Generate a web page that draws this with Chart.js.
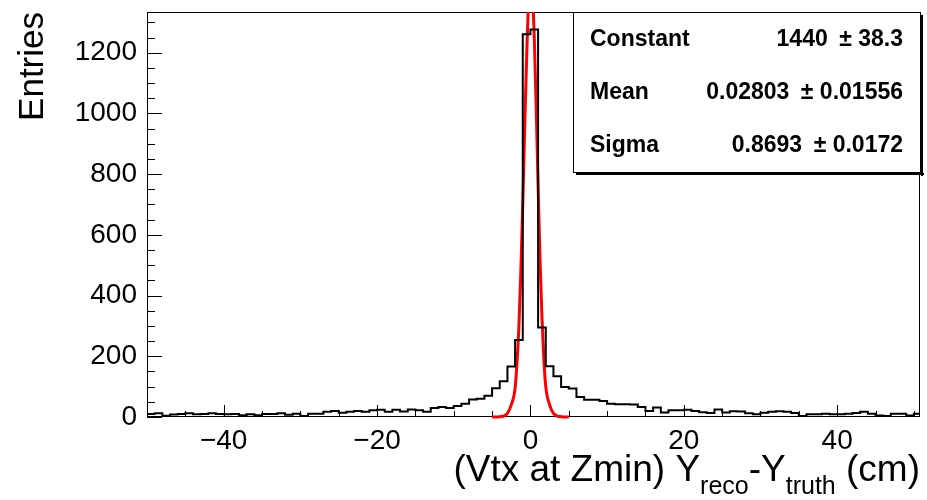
<!DOCTYPE html>
<html>
<head>
<meta charset="utf-8">
<title>Vtx at Zmin Y residual</title>
<script src="https://cdn.jsdelivr.net/npm/chart.js@4.4.1/dist/chart.umd.min.js"></script>
<style>
  html, body { margin: 0; padding: 0; background: #fff; }
  #wrap { width: 927px; height: 500px; }
</style>
</head>
<body>
<div id="wrap"><canvas id="residual_chart" width="927" height="500"></canvas></div>
<script>
// HISTOGRAM DATA (bins of 1 cm starting at -50)
const bin_start = -50;
const bin_width = 1;
const entries = [
  10, 12, 4, 8, 10, 12, 9, 10, 12, 10,        // -50 .. -41
  9, 10, 6, 9, 6, 10, 10, 12, 7, 11,          // -40 .. -31
  3, 11, 11, 17, 20, 14, 17, 20, 17, 22,      // -30 .. -21
  24, 17, 24, 18, 25, 22, 17, 30, 33, 30,     // -20 .. -11
  36, 44, 58, 60, 70, 95, 118, 166, 254, 1261, // -10 .. -1
  1276, 295, 167, 134, 99, 94, 66, 57, 57, 53, // 0 .. 9
  44, 42, 42, 41, 33, 20, 31, 15, 22, 22,     // 10 .. 19
  24, 20, 16, 13, 25, 15, 19, 18, 12, 9,      // 20 .. 29
  14, 17, 19, 17, 13, 3, 9, 9, 11, 9,         // 30 .. 39
  9, 11, 13, 17, 11, 5, 3, 11, 11, 5,         // 40 .. 49
  11                                          // 50
];

// gaussian fit curve
const fit_x = [-5, -4.5, -4, -3.5, -3, -2.5, -2, -1.75, -1.5, -1.25, -1, -0.75, -0.5, -0.25,
  0, 0.25, 0.5, 0.75, 1, 1.25, 1.5, 1.75, 2, 2.5, 3, 3.5, 4, 4.5, 5];
const fit_y = [0, 0, 1, 3, 12, 40, 95, 180, 300, 480, 700, 950, 1180, 1360,
  1440, 1400, 1250, 1020, 760, 520, 330, 190, 100, 40, 12, 3, 1, 0, 0];

// axes
const x_min = -50, x_max = 50.8;
const y_min = 0, y_max = 1334;
const x_tick_labels = [-40, -20, 0, 20, 40];
const y_tick_labels = [0, 200, 400, 600, 800, 1000, 1200];

// fit statistics box
const stat_names = ["Constant", "Mean", "Sigma"];
const stat_values = ["1440", "0.02803", "0.8693"];
const stat_errors = ["38.3", "0.01556", "0.0172"];

const FONT = '"Liberation Sans", Arial, Helvetica, sans-serif';

// build the step outline of the histogram
const hist_points = [];
entries.forEach((count, i) => {
  const lo = bin_start + i * bin_width;
  hist_points.push({ x: lo, y: count });
  hist_points.push({ x: lo + bin_width, y: count });
});

const fit_points = fit_x.map((x, i) => ({ x: x, y: fit_y[i] }));

/* ---------------------------------------------- */
/*          ROOT STYLE FRAME, TICKS, TITLES        */
/* ---------------------------------------------- */
const rootStyle = {
  id: "rootStyle",
  beforeDatasetsDraw(chart) {
    const ctx = chart.ctx;
    const a = chart.chartArea;
    const xs = chart.scales.x, ys = chart.scales.y;
    ctx.save();
    ctx.strokeStyle = "#000";
    ctx.lineWidth = 1;

    // frame
    ctx.strokeRect(Math.round(a.left) + 0.5, Math.round(a.top) + 0.5,
      Math.round(a.right - a.left) - 1, Math.round(a.bottom - a.top) - 1);

    // inward ticks
    ctx.beginPath();
    for (let v = -50; v <= 50; v += 5) {
      const px = Math.round(xs.getPixelForValue(v)) + 0.5;
      const len = v % 20 === 0 ? 12 : 6;
      ctx.moveTo(px, a.bottom);
      ctx.lineTo(px, a.bottom - len);
    }
    for (let v = 0; v <= 1300; v += 50) {
      const py = Math.round(ys.getPixelForValue(v)) + 0.5;
      const len = v % 200 === 0 ? 15 : 8;
      ctx.moveTo(a.left, py);
      ctx.lineTo(a.left + len, py);
    }
    ctx.stroke();

    // y title
    ctx.fillStyle = "#000";
    ctx.font = "35px " + FONT;
    ctx.save();
    ctx.translate(43, a.top);
    ctx.rotate(-Math.PI / 2);
    ctx.textAlign = "right";
    ctx.textBaseline = "alphabetic";
    ctx.fillText("Entries", 0, 0);
    ctx.restore();

    // x title with subscripts
    const big = "37px " + FONT, small = "25px " + FONT;
    const parts = [
      { t: "(Vtx at Zmin) Y", f: big, dy: 0 },
      { t: "reco", f: small, dy: 13 },
      { t: "-Y", f: big, dy: 0 },
      { t: "truth", f: small, dy: 13 },
      { t: " (cm)", f: big, dy: 0 }
    ];
    let total = 0;
    parts.forEach((p) => { ctx.font = p.f; p.w = ctx.measureText(p.t).width; total += p.w; });
    let tx = a.right - total;
    ctx.textAlign = "left";
    parts.forEach((p) => {
      ctx.font = p.f;
      ctx.fillText(p.t, tx, 481 + p.dy);
      tx += p.w;
    });
    ctx.restore();
  },
  afterDatasetsDraw(chart) {
    const ctx = chart.ctx;
    const a = chart.chartArea;
    ctx.save();
    ctx.strokeStyle = "#000";
    ctx.lineWidth = 1;

    // stats box
    const bx = 573, by = Math.round(a.top), bw = 348, bh = 161;
    ctx.fillStyle = "#000";
    ctx.fillRect(bx + 3, by + bh, bw, 2);
    ctx.fillRect(bx + bw, by + 3, 2, bh);
    ctx.fillStyle = "#fff";
    ctx.fillRect(bx, by, bw, bh);
    ctx.strokeRect(bx + 0.5, by + 0.5, bw - 1, bh - 1);
    ctx.fillStyle = "#000";
    ctx.font = "bold 23px " + FONT;
    ctx.textBaseline = "middle";
    const rows = [40, 93, 146];
    stat_names.forEach((name, i) => {
      ctx.textAlign = "left";
      ctx.fillText(name, 590, rows[i]);
      ctx.textAlign = "right";
      ctx.fillText(stat_values[i] + "\u2002\u00B1 " + stat_errors[i], 903, rows[i]);
    });
    ctx.restore();
  }
};

const ctx = document.getElementById("residual_chart").getContext("2d");

new Chart(ctx, {
  type: "line",
  data: {
    datasets: [
      {
        label: "histogram",
        data: hist_points,
        borderColor: "#000",
        borderWidth: 2,
        pointRadius: 0,
        tension: 0,
        fill: false
      },
      {
        label: "gaus fit",
        data: fit_points,
        borderColor: "#ff0000",
        borderWidth: 3,
        pointRadius: 0,
        cubicInterpolationMode: "monotone",
        clip: { left: 5, right: 5, top: 0, bottom: 3 },
        fill: false
      }
    ]
  },
  options: {
    responsive: false,
    animation: false,
    layout: { padding: { top: 12, right: 7, left: 0, bottom: 0 } },
    plugins: {
      legend: { display: false },
      tooltip: { enabled: false }
    },
    scales: {
      x: {
        type: "linear",
        min: x_min,
        max: x_max,
        grid: { display: false, drawTicks: false },
        border: { display: false },
        afterBuildTicks: (s) => { s.ticks = x_tick_labels.map((v) => ({ value: v })); },
        afterFit: (s) => { s.height = 83; s.paddingLeft = 0; s.paddingRight = 0; },
        ticks: {
          padding: 7,
          color: "#000",
          font: { family: FONT, size: 28 },
          maxRotation: 0,
          callback: (v) => (v < 0 ? "\u2212" + Math.abs(v) : "" + v)
        }
      },
      y: {
        type: "linear",
        min: y_min,
        max: y_max,
        grid: { display: false, drawTicks: false },
        border: { display: false },
        afterBuildTicks: (s) => { s.ticks = y_tick_labels.map((v) => ({ value: v })); },
        afterFit: (s) => { s.width = 147; s.paddingTop = 0; s.paddingBottom = 0; },
        ticks: {
          padding: 10,
          color: "#000",
          font: { family: FONT, size: 28 },
          callback: (v) => "" + v
        }
      }
    }
  },
  plugins: [rootStyle]
});
</script>
</body>
</html>
